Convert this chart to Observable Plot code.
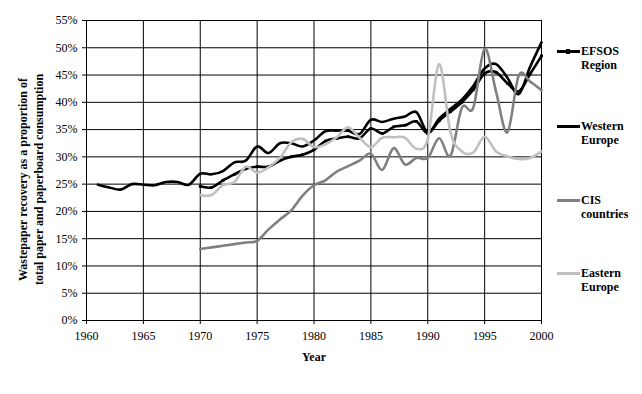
<!DOCTYPE html>
<html><head><meta charset="utf-8">
<script src="https://cdn.jsdelivr.net/npm/d3@7"></script>
<script src="https://cdn.jsdelivr.net/npm/@observablehq/plot@0.6"></script>
<style>
body{margin:0;background:#fff;}
#wrap{position:relative;width:642px;height:394px;font-family:"Liberation Serif","Times New Roman",serif;background:#fff;}
.leg{position:absolute;left:557px;font-weight:bold;font-size:12px;line-height:14px;color:#000;}
.sw{position:absolute;left:0;top:6px;width:23px;height:3px;}
.dotm{position:absolute;left:9px;top:5px;width:4px;height:5px;background:#000;}
.lt{position:absolute;left:24px;top:0;white-space:nowrap;}
</style></head><body><div id="wrap"></div>
<script>
// Categories / tick labels
const xTicks = [1960, 1965, 1970, 1975, 1980, 1985, 1990, 1995, 2000];
const yTicks = [0, 5, 10, 15, 20, 25, 30, 35, 40, 45, 50, 55];
const seriesNames = ["EFSOS Region", "Western Europe", "CIS countries", "Eastern Europe"];

// Years
const westernYears = [1961,1962,1963,1964,1965,1966,1967,1968,1969,
  1970,1971,1972,1973,1974,1975,1976,1977,1978,1979,
  1980,1981,1982,1983,1984,1985,1986,1987,1988,1989,
  1990,1991,1992,1993,1994,1995,1996,1997,1998,1999,2000];
const years7000 = [1970,1971,1972,1973,1974,1975,1976,1977,1978,1979,
  1980,1981,1982,1983,1984,1985,1986,1987,1988,1989,
  1990,1991,1992,1993,1994,1995,1996,1997,1998,1999,2000];

// Series values (% of consumption)
const western = [24.9,24.4,24.0,25.0,24.9,24.8,25.4,25.4,24.9,
  26.9,26.8,27.4,29.0,29.3,31.9,30.7,32.5,32.5,31.9,
  33.0,34.7,34.8,34.8,34.2,36.8,36.4,37.0,37.4,38.2,
  34.5,37.0,38.8,40.5,43.0,46.2,47.0,44.5,41.5,46.5,51.0];
const efsos = [24.6,24.4,25.7,26.8,27.8,28.2,28.2,29.3,30.0,30.4,
  31.3,32.9,33.4,33.7,33.4,35.2,34.3,35.5,35.8,36.5,
  34.3,36.6,38.3,40.0,42.3,45.3,45.5,43.5,42.0,45.2,48.5];
const cis = [13.1,13.4,13.7,14.0,14.3,14.6,16.7,18.5,20.2,22.9,
  24.8,25.7,27.3,28.3,29.3,30.6,27.6,31.6,28.6,29.8,
  29.8,33.4,30.2,39.0,39.0,49.8,42.0,34.5,44.9,43.8,42.2];
const eastern = [23.0,23.0,24.8,25.4,28.2,27.1,28.1,29.8,32.7,33.3,
  31.8,32.3,33.6,35.4,33.5,31.8,33.5,33.6,33.5,31.5,
  33.3,47.0,34.5,31.0,30.8,33.7,31.0,30.1,29.6,29.8,31.0];

const colors = ["#000000", "#000000", "#808080", "#c0c0c0"];
const yTitle = "Wastepaper recovery as a proportion of\ntotal paper and paperboard consumption";

const toRows = (ys, vs) => ys.map((y, i) => ({year: y, v: vs[i]}));
const efsosRows = toRows(years7000, efsos);
const westernRows = toRows(westernYears, western);
const cisRows = toRows(years7000, cis);
const easternRows = toRows(years7000, eastern);

const font = "Liberation Serif, Times New Roman, serif";
const chart = Plot.plot({
  width: 642, height: 394,
  marginLeft: 86, marginRight: 101, marginTop: 20, marginBottom: 74,
  style: {fontFamily: font, fontSize: "12px", color: "black", background: "white", overflow: "visible"},
  x: {domain: [1960, 2000]},
  y: {domain: [0, 55]},
  marks: [
    Plot.gridX(xTicks, {stroke: "black", strokeOpacity: 1, strokeWidth: 1}),
    Plot.gridY(yTicks, {stroke: "black", strokeOpacity: 1, strokeWidth: 1}),
    Plot.axisX(xTicks, {tickSize: 4, tickPadding: 7, tickFormat: d => String(d), label: null, fontSize: 12}),
    Plot.axisY(yTicks, {tickSize: 4, tickPadding: 5, tickFormat: d => d + "%", label: null, fontSize: 12}),
    Plot.line(efsosRows, {x: "year", y: "v", stroke: colors[0], strokeWidth: 2.6, curve: "cardinal"}),
    Plot.dot(efsosRows, {x: "year", y: "v", fill: colors[0], r: 1.6, symbol: "square"}),
    Plot.line(westernRows, {x: "year", y: "v", stroke: colors[1], strokeWidth: 2.6, curve: "cardinal"}),
    Plot.line(cisRows, {x: "year", y: "v", stroke: colors[2], strokeWidth: 2.6, curve: "cardinal"}),
    Plot.line(easternRows, {x: "year", y: "v", stroke: colors[3], strokeWidth: 2.6, curve: "cardinal"}),
    Plot.text(["Year"], {text: d => d, frameAnchor: "bottom", dy: 40, fontWeight: "bold", fontSize: 12}),
    Plot.text([yTitle], {text: d => d, frameAnchor: "left", rotate: -90, dx: -57, dy: 9, lineHeight: 1.35, fontWeight: "bold", fontSize: 12, textAnchor: "middle"})
  ]
});
const wrap = document.getElementById("wrap");
wrap.appendChild(chart);

// Legend (HTML, right side)
const legTops = [44, 119, 193, 266];
seriesNames.forEach((name, i) => {
  const d = document.createElement("div");
  d.className = "leg";
  d.style.top = legTops[i] + "px";
  const sw = document.createElement("div");
  sw.className = "sw";
  sw.style.background = colors[i];
  d.appendChild(sw);
  if (i === 0) { const m = document.createElement("div"); m.className = "dotm"; d.appendChild(m); }
  const t = document.createElement("div");
  t.className = "lt";
  t.innerHTML = name.replace(" ", "<br>");
  d.appendChild(t);
  wrap.appendChild(d);
});
</script>
</body></html>
